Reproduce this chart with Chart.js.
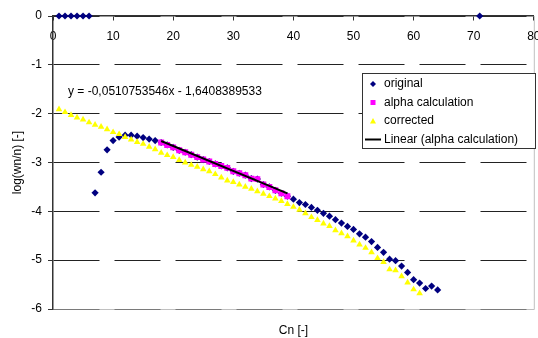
<!DOCTYPE html>
<html>
<head>
<meta charset="utf-8">
<script src="https://cdn.jsdelivr.net/npm/chart.js@4/dist/chart.umd.min.js"></script>
<style>
  html, body { margin: 0; padding: 0; background: #fff; }
  #wrap { width: 538px; height: 338px; }
</style>
</head>
<body>
<div id="wrap"><canvas id="chart"></canvas></div>
<script>
// ---------- data ----------
const originalX = [1, 2, 3, 4, 5, 6,
  7, 8, 9, 10, 11, 12, 13, 14, 15, 16, 17,
  18, 19, 20, 21, 22, 23, 24, 25, 26, 27, 28, 29, 30, 31, 32, 33, 34, 35, 36, 37, 38, 39,
  40, 41, 42, 43, 44, 45, 46, 47, 48, 49, 50, 51, 52, 53, 54, 55, 56, 57, 58, 59, 60, 61, 62, 63, 64,
  71];
const originalY = [0, 0, 0, 0, 0, 0,
  -3.62, -3.20, -2.74, -2.55, -2.48, -2.44, -2.44, -2.46, -2.49, -2.52, -2.55,
  -2.59, -2.64, -2.69, -2.75, -2.79, -2.84, -2.89, -2.94, -2.98, -3.03, -3.07, -3.11, -3.18, -3.22, -3.26, -3.33, -3.34, -3.45, -3.50, -3.57, -3.63, -3.69,
  -3.75, -3.82, -3.86, -3.92, -3.98, -4.04, -4.10, -4.17, -4.24, -4.31, -4.37, -4.46, -4.53, -4.62, -4.74, -4.84, -4.98, -5.01, -5.12, -5.25, -5.40, -5.47, -5.58, -5.53, -5.61,
  0];

const alphaX = [18, 19, 20, 21, 22, 23, 24, 25, 26, 27, 28, 29, 30, 31, 32, 33, 34, 35, 36, 37, 38, 39];
const alphaY = [-2.59, -2.64, -2.69, -2.75, -2.79, -2.84, -2.89, -2.94, -2.98, -3.03, -3.07, -3.11, -3.18, -3.22, -3.26, -3.33, -3.34, -3.45, -3.50, -3.57, -3.63, -3.69];

const correctedX = [1, 2, 3, 4, 5, 6, 7, 8, 9, 10, 11, 12, 13, 14, 15, 16, 17, 18, 19, 20,
  21, 22, 23, 24, 25, 26, 27, 28, 29, 30, 31, 32, 33, 34, 35, 36, 37, 38, 39, 40,
  41, 42, 43, 44, 45, 46, 47, 48, 49, 50, 51, 52, 53, 54, 55, 56, 57, 58, 59, 60, 61];
const correctedY = [-1.91, -1.97, -2.03, -2.08, -2.12, -2.18, -2.23, -2.27, -2.32, -2.38, -2.42, -2.48, -2.53, -2.58, -2.62, -2.68, -2.73, -2.80, -2.85, -2.89,
  -2.95, -3.00, -3.05, -3.09, -3.14, -3.18, -3.24, -3.31, -3.37, -3.40, -3.45, -3.50, -3.54, -3.59, -3.64, -3.69, -3.74, -3.79, -3.85, -3.91,
  -3.97, -4.04, -4.12, -4.18, -4.25, -4.30, -4.39, -4.45, -4.51, -4.60, -4.68, -4.75, -4.84, -4.96, -5.04, -5.19, -5.21, -5.33, -5.46, -5.60, -5.68];

// trendline as printed on the chart
const trendSlope = -0.0510753546;
const trendIntercept = -1.6408389533;
const trendLabel = 'y = -0,0510753546x - 1,6408389533';

const xTicks = [0, 10, 20, 30, 40, 50, 60, 70, 80];
const yTicks = [0, -1, -2, -3, -4, -5, -6];

const seriesNames = ['original', 'alpha calculation', 'corrected', 'Linear (alpha calculation)'];

// ---------- helpers ----------
function toPoints(xs, ys) {
  return xs.map((x, i) => ({ x: x, y: ys[i] }));
}
const trendEnds = [alphaX[0], alphaX[alphaX.length - 1]];
const trendPoints = trendEnds.map(x => ({ x: x, y: trendSlope * x + trendIntercept }));

Chart.defaults.font.family = "'Liberation Sans', Arial, sans-serif";
Chart.defaults.font.size = 12;
Chart.defaults.color = '#000';

const gridDash = [46, 15];

// plot frame, equation text and legend box
const decor = {
  id: 'decor',
  beforeDraw(chart) {
    const { ctx, chartArea: a } = chart;
    ctx.save();
    ctx.strokeStyle = '#c0c0c0';
    ctx.lineWidth = 1;
    ctx.beginPath();
    ctx.moveTo(a.left, a.bottom + 0.5);
    ctx.lineTo(a.right + 0.5, a.bottom + 0.5);
    ctx.lineTo(a.right + 0.5, a.top);
    ctx.stroke();
    ctx.restore();
  },
  afterDraw(chart) {
    const { ctx } = chart;
    const xs = chart.scales.x, ys = chart.scales.y;
    ctx.save();
    ctx.font = "12px 'Liberation Sans', Arial, sans-serif";
    ctx.fillStyle = '#000';
    ctx.textBaseline = 'middle';
    ctx.textAlign = 'left';
    ctx.fillText(trendLabel, xs.getPixelForValue(2.5), ys.getPixelForValue(-1.56));

    // legend
    const bx = 362.5, by = 73.5, bw = 173, bh = 75;
    ctx.fillStyle = '#fff';
    ctx.fillRect(bx, by, bw, bh);
    ctx.strokeStyle = '#333';
    ctx.lineWidth = 1;
    ctx.strokeRect(bx, by, bw, bh);
    const rows = [84, 102.5, 121, 139.5];
    const mx = 373;
    chart.data.datasets.forEach((ds, i) => {
      const y = rows[i];
      ctx.fillStyle = ds.backgroundColor;
      ctx.beginPath();
      if (ds.pointStyle === 'rectRot') {
        ctx.moveTo(mx, y - 3); ctx.lineTo(mx + 3, y); ctx.lineTo(mx, y + 3); ctx.lineTo(mx - 3, y);
        ctx.closePath(); ctx.fill();
      } else if (ds.pointStyle === 'rect') {
        ctx.fillRect(mx - 2.5, y - 2.5, 5, 5);
      } else if (ds.pointStyle === 'triangle') {
        ctx.moveTo(mx, y - 3); ctx.lineTo(mx + 3, y + 2.5); ctx.lineTo(mx - 3, y + 2.5);
        ctx.closePath(); ctx.fill();
      } else {
        ctx.strokeStyle = ds.borderColor;
        ctx.lineWidth = 2;
        ctx.moveTo(mx - 8, y); ctx.lineTo(mx + 8, y); ctx.stroke();
      }
      ctx.fillStyle = '#000';
      ctx.fillText(ds.label, 384, y);
    });
    ctx.restore();
  }
};

new Chart(document.getElementById('chart'), {
  type: 'scatter',
  data: {
    datasets: [
      {
        label: seriesNames[0],
        data: toPoints(originalX, originalY),
        pointStyle: 'rectRot',
        pointRadius: 3.6,
        backgroundColor: '#000080',
        borderColor: '#000080',
        borderWidth: 0,
        clip: false,
        order: 4
      },
      {
        label: seriesNames[1],
        data: toPoints(alphaX, alphaY),
        pointStyle: 'rect',
        pointRadius: 4.2,
        backgroundColor: '#ff00ff',
        borderColor: '#ff00ff',
        borderWidth: 0,
        order: 3
      },
      {
        label: seriesNames[2],
        data: toPoints(correctedX, correctedY),
        pointStyle: 'triangle',
        pointRadius: 3.8,
        backgroundColor: '#ffff00',
        borderColor: '#ffff00',
        borderWidth: 0,
        order: 2
      },
      {
        label: seriesNames[3],
        type: 'line',
        data: trendPoints,
        pointStyle: 'line',
        pointRadius: 0,
        showLine: true,
        borderColor: '#000',
        backgroundColor: '#000',
        borderWidth: 2,
        fill: false,
        order: 1
      }
    ]
  },
  options: {
    responsive: true,
    maintainAspectRatio: false,
    animation: false,
    layout: {
      padding: { left: 0, right: 3, top: 16, bottom: 0 }
    },
    scales: {
      x: {
        type: 'linear',
        position: { y: 0 },
        min: xTicks[0],
        max: xTicks[xTicks.length - 1],
        afterBuildTicks: s => { s.ticks = xTicks.map(v => ({ value: v })); },
        afterFit: s => { s.paddingLeft = 0; s.paddingRight = 0; s.paddingTop = 0; s.paddingBottom = 0; },
        grid: { drawOnChartArea: false, drawTicks: true, tickLength: 4, color: '#333', tickBorderDash: [] },
        border: { display: true, color: '#333', width: 1.5 },
        ticks: { padding: 9, color: '#000', font: { size: 12 } }
      },
      xb: {
        type: 'linear',
        position: 'bottom',
        min: 0,
        max: 80,
        grid: { display: false },
        border: { display: false },
        ticks: { display: false },
        title: { display: true, text: 'Cn [-]', color: '#000', font: { size: 12 }, padding: { top: 0, bottom: 0 } },
        afterFit: s => { s.height = 29; s.paddingLeft = 0; s.paddingRight = 0; }
      },
      y: {
        type: 'linear',
        position: 'left',
        min: yTicks[yTicks.length - 1],
        max: yTicks[0],
        afterBuildTicks: s => { s.ticks = yTicks.slice().reverse().map(v => ({ value: v })); },
        afterFit: s => { s.width = 53; s.paddingTop = 0; s.paddingBottom = 0; },
        grid: {
          color: c => (c.tick && c.tick.value === -6 ? '#7a7a7a' : '#222'),
          lineWidth: 1,
          borderDash: gridDash,
          tickLength: 5,
          tickColor: '#333',
          tickBorderDash: []
        },
        border: { display: true, color: '#333', width: 1.5, dash: gridDash },
        ticks: { padding: 6, color: '#000', font: { size: 12 } },
        title: { display: true, text: 'log(wn/n) [-]', color: '#000', font: { size: 12 }, padding: { top: 10, bottom: 0 } }
      }
    },
    plugins: {
      legend: { display: false },
      tooltip: { enabled: false }
    }
  },
  plugins: [decor]
});
</script>
</body>
</html>
